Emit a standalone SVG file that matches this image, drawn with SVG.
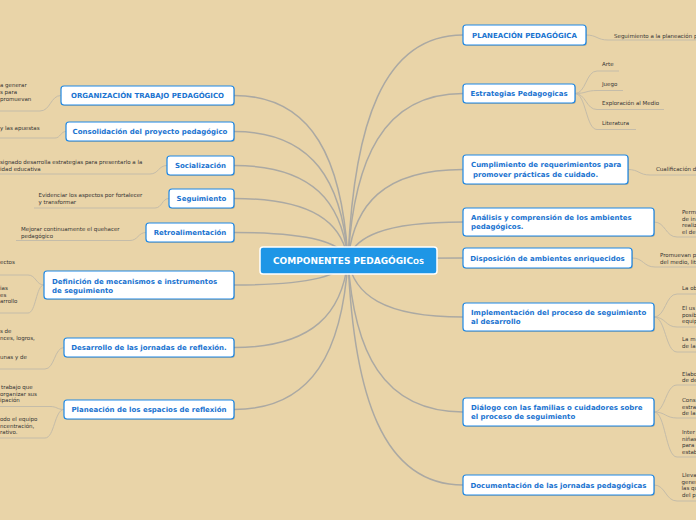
<svg xmlns="http://www.w3.org/2000/svg" width="696" height="520" viewBox="0 0 696 520">
<style>
.bg{fill:#E9D4A8}
.main{fill:none;stroke:#ABA9A3;stroke-width:1.5}
.leafc{fill:none;stroke:#C4BCA9;stroke-width:1}
.box{fill:#FFFFFF;stroke:#1E88E5;stroke-width:1.2}
.sh{fill:#000;opacity:0.15}
.nt{font-family:"DejaVu Sans",Verdana,sans-serif;font-weight:bold;font-size:7px;fill:#1A73D0}
.c{text-anchor:middle}
.lt{font-family:"DejaVu Sans",Verdana,sans-serif;font-size:5.5px;fill:#333333}
.ctr{fill:#1E96E6;stroke:#FFFFFF;stroke-width:1.5}
.ct{font-family:"DejaVu Sans",Verdana,sans-serif;font-weight:bold;font-size:9px;fill:#FFFFFF;text-anchor:middle}
</style>
<rect class="bg" x="0" y="0" width="696" height="520"/>
<g id="connectors">
<path class="main" d="M348,260 C342.3,161.3 313.8,95.5 234,95.5"/>
<path class="main" d="M348,260 C342.3,182.9 313.8,131.5 234,131.5"/>
<path class="main" d="M348,260 C342.3,203.3 313.8,165.5 234,165.5"/>
<path class="main" d="M348,260 C342.3,223.1 313.8,198.5 234,198.5"/>
<path class="main" d="M348,260 C342.3,243.5 313.8,232.5 234,232.5"/>
<path class="main" d="M348,260 C342.3,275 313.8,285 234,285"/>
<path class="main" d="M348,260 C342.3,312.5 313.8,347.5 234,347.5"/>
<path class="main" d="M348,260 C342.3,349.7 313.8,409.5 234,409.5"/>
<path class="main" d="M348,260 C353.75,125 382.5,35 463,35"/>
<path class="main" d="M348,260 C353.75,160.1 382.5,93.5 463,93.5"/>
<path class="main" d="M348,260 C353.75,205.7 382.5,169.5 463,169.5"/>
<path class="main" d="M348,260 C353.75,237.2 382.5,222 463,222"/>
<path class="main" d="M348,260 C353.75,258.8 382.5,258 463,258"/>
<path class="main" d="M348,260 C353.75,294.2 382.5,317 463,317"/>
<path class="main" d="M348,260 C353.75,351.2 382.5,412 463,412"/>
<path class="main" d="M348,260 C353.75,395 382.5,485 463,485"/>
<path class="leafc" d="M61,95.5 C50.5,95.5 50.5,111 40,111 H0"/>
<path class="leafc" d="M66,131.5 C60.5,131.5 60.5,138 55,138 H0"/>
<path class="leafc" d="M167,165.5 C158.5,165.5 158.5,174 150,174 H0"/>
<path class="leafc" d="M169,198.5 C162,198.5 162,208 155,208 H34"/>
<path class="leafc" d="M146,232.5 C138,232.5 138,240.5 130,240.5 H16"/>
<path class="leafc" d="M44,285 C36,285 36,275 28,275 H0"/>
<path class="leafc" d="M44,285 C36,285 36,313 28,313 H0"/>
<path class="leafc" d="M64,347.5 C54.5,347.5 54.5,369 45,369 H0"/>
<path class="leafc" d="M64,409.5 C57,409.5 57,406.5 50,406.5 H0"/>
<path class="leafc" d="M64,409.5 C54.5,409.5 54.5,438 45,438 H0"/>
<path class="leafc" d="M586,35 C597,35 597,40 608,40 H696"/>
<path class="leafc" d="M575,93.5 C586,93.5 586,71 597,71 H619"/>
<path class="leafc" d="M575,93.5 C586,93.5 586,90.5 597,90.5 H623"/>
<path class="leafc" d="M575,93.5 C586,93.5 586,109.5 597,109.5 H664"/>
<path class="leafc" d="M575,93.5 C586,93.5 586,129.5 597,129.5 H636"/>
<path class="leafc" d="M628,169.5 C639,169.5 639,175 650,175 H696"/>
<path class="leafc" d="M654,222 C665.5,222 665.5,237 677,237 H696"/>
<path class="leafc" d="M632,258 C643.5,258 643.5,267 655,267 H696"/>
<path class="leafc" d="M654,317 C665.5,317 665.5,294 677,294 H696"/>
<path class="leafc" d="M654,317 C665.5,317 665.5,327 677,327 H696"/>
<path class="leafc" d="M654,317 C665.5,317 665.5,352 677,352 H696"/>
<path class="leafc" d="M654,412 C665.5,412 665.5,385 677,385 H696"/>
<path class="leafc" d="M654,412 C665.5,412 665.5,418 677,418 H696"/>
<path class="leafc" d="M654,412 C665.5,412 665.5,457 677,457 H696"/>
<path class="leafc" d="M654,485 C665.5,485 665.5,501 677,501 H696"/>
</g>
<g id="center">
<rect class="ctr" x="260" y="247" width="177" height="27" rx="3"/>
<text class="ct" x="348.5" y="264">COMPONENTES PEDAGÓGIC<tspan font-size="7px">OS</tspan></text>
</g>
<g id="organizacion">
<rect class="sh" x="62" y="87" width="173" height="19" rx="3"/>
<rect class="box" x="61" y="86" width="173" height="19" rx="3"/>
<text class="nt c" x="147.5" y="98">ORGANIZACIÓN TRABAJO PEDAGÓGICO</text>
<text class="lt" x="0" y="87">a generar</text>
<text class="lt" x="0" y="93.5">s para</text>
<text class="lt" x="0" y="100.5">promuevan</text>
</g>
<g id="consolidacion">
<rect class="sh" x="67" y="123" width="168" height="19" rx="3"/>
<rect class="box" x="66" y="122" width="168" height="19" rx="3"/>
<text class="nt c" x="150" y="134">Consolidación del proyecto pedagógico</text>
<text class="lt" x="0" y="130">y las apuestas</text>
</g>
<g id="socializacion">
<rect class="sh" x="168" y="157" width="67" height="19" rx="3"/>
<rect class="box" x="167" y="156" width="67" height="19" rx="3"/>
<text class="nt c" x="200.5" y="168">Socialización</text>
<text class="lt" x="0" y="164">signado desarrolla estrategias para presentarlo a la</text>
<text class="lt" x="0" y="170.5">idad educativa</text>
</g>
<g id="seguimiento">
<rect class="sh" x="170" y="190" width="65" height="19" rx="3"/>
<rect class="box" x="169" y="189" width="65" height="19" rx="3"/>
<text class="nt c" x="201.5" y="201">Seguimiento</text>
<text class="lt" x="38.5" y="197">Evidenciar los aspectos por fortalecer</text>
<text class="lt" x="38.5" y="204">y transformar</text>
</g>
<g id="retroalimentacion">
<rect class="sh" x="147" y="224" width="88" height="19" rx="3"/>
<rect class="box" x="146" y="223" width="88" height="19" rx="3"/>
<text class="nt c" x="190" y="235">Retroalimentación</text>
<text class="lt" x="21" y="231">Mejorar continuamente el quehacer</text>
<text class="lt" x="21" y="237.5">pedagógico</text>
</g>
<g id="definicion">
<rect class="sh" x="45" y="272" width="190" height="28" rx="3"/>
<rect class="box" x="44" y="271" width="190" height="28" rx="3"/>
<text class="nt" x="52" y="283.5">Definición de mecanismos e instrumentos</text>
<text class="nt" x="52" y="292.5">de seguimiento</text>
<text class="lt" x="0" y="264">ectos</text>
<text class="lt" x="0" y="290">ias</text>
<text class="lt" x="0" y="296.5">es</text>
<text class="lt" x="0" y="303">arrollo</text>
</g>
<g id="desarrollo">
<rect class="sh" x="65" y="339" width="170" height="19" rx="3"/>
<rect class="box" x="64" y="338" width="170" height="19" rx="3"/>
<text class="nt c" x="149" y="350">Desarrollo de las jornadas de reflexión.</text>
<text class="lt" x="0" y="333">s de</text>
<text class="lt" x="0" y="340">nces, logros,</text>
<text class="lt" x="0" y="359">unas y de</text>
</g>
<g id="planeacion-espacios">
<rect class="sh" x="65" y="401" width="170" height="19" rx="3"/>
<rect class="box" x="64" y="400" width="170" height="19" rx="3"/>
<text class="nt c" x="149" y="412">Planeación de los espacios de reflexión</text>
<text class="lt" x="1" y="389">trabajo que</text>
<text class="lt" x="0" y="395.5">organizar sus</text>
<text class="lt" x="0" y="402">ipación</text>
<text class="lt" x="0" y="421">odo el equipo</text>
<text class="lt" x="0" y="427.5">ncentración,</text>
<text class="lt" x="0" y="434">rativo.</text>
</g>
<g id="planeacion-pedagogica">
<rect class="sh" x="464" y="26" width="123" height="20" rx="3"/>
<rect class="box" x="463" y="25" width="123" height="20" rx="3"/>
<text class="nt c" x="524.5" y="38">PLANEACIÓN PEDAGÓGICA</text>
<text class="lt" x="614" y="37.5">Seguimiento a la planeación p</text>
</g>
<g id="estrategias">
<rect class="sh" x="464" y="85" width="112" height="19" rx="3"/>
<rect class="box" x="463" y="84" width="112" height="19" rx="3"/>
<text class="nt c" x="519" y="96">Estrategias Pedagogicas</text>
<text class="lt" x="602" y="66">Arte</text>
<text class="lt" x="602" y="86">Juego</text>
<text class="lt" x="602" y="105">Exploración al Medio</text>
<text class="lt" x="602" y="125">Literatura</text>
</g>
<g id="cumplimiento">
<rect class="sh" x="464" y="156" width="165" height="29" rx="3"/>
<rect class="box" x="463" y="155" width="165" height="29" rx="3"/>
<text class="nt" x="471" y="167">Cumplimiento de requerimientos para</text>
<text class="nt" x="473" y="177">promover prácticas de cuidado.</text>
<text class="lt" x="656" y="171">Cualificación d</text>
</g>
<g id="analisis">
<rect class="sh" x="464" y="209" width="191" height="28" rx="3"/>
<rect class="box" x="463" y="208" width="191" height="28" rx="3"/>
<text class="nt" x="471" y="220">Análisis y comprensión de los ambientes</text>
<text class="nt" x="471" y="229">pedagógicos.</text>
<text class="lt" x="682" y="214">Perm</text>
<text class="lt" x="682" y="220.5">de in</text>
<text class="lt" x="682" y="227">realiz</text>
<text class="lt" x="682" y="233.5">el de</text>
</g>
<g id="disposicion">
<rect class="sh" x="464" y="249" width="169" height="20" rx="3"/>
<rect class="box" x="463" y="248" width="169" height="20" rx="3"/>
<text class="nt c" x="547.5" y="261">Disposición de ambientes enriquecidos</text>
<text class="lt" x="660" y="256.5">Promuevan p</text>
<text class="lt" x="660" y="263.5">del medio, lit</text>
</g>
<g id="implementacion">
<rect class="sh" x="464" y="304" width="191" height="28" rx="3"/>
<rect class="box" x="463" y="303" width="191" height="28" rx="3"/>
<text class="nt" x="471" y="315">Implementación del proceso de seguimiento</text>
<text class="nt" x="471" y="324">al desarrollo</text>
<text class="lt" x="682" y="290">La ob</text>
<text class="lt" x="682" y="310">El us</text>
<text class="lt" x="682" y="316.5">posib</text>
<text class="lt" x="682" y="323">equip</text>
<text class="lt" x="682" y="341">La m</text>
<text class="lt" x="682" y="347.5">de la</text>
</g>
<g id="dialogo">
<rect class="sh" x="464" y="399" width="191" height="28" rx="3"/>
<rect class="box" x="463" y="398" width="191" height="28" rx="3"/>
<text class="nt" x="471" y="410">Diálogo con las familias o cuidadores sobre</text>
<text class="nt" x="471" y="419">el proceso de seguimiento</text>
<text class="lt" x="682" y="376">Elabo</text>
<text class="lt" x="682" y="382">de de</text>
<text class="lt" x="682" y="402">Cons</text>
<text class="lt" x="682" y="408.5">estra</text>
<text class="lt" x="682" y="415">de la</text>
<text class="lt" x="682" y="434">Inter</text>
<text class="lt" x="682" y="440.5">niñas</text>
<text class="lt" x="682" y="447">para</text>
<text class="lt" x="682" y="453.5">estab</text>
</g>
<g id="documentacion">
<rect class="sh" x="464" y="476" width="191" height="20" rx="3"/>
<rect class="box" x="463" y="475" width="191" height="20" rx="3"/>
<text class="nt c" x="558.5" y="488">Documentación de las jornadas pedagógicas</text>
<text class="lt" x="682" y="477">Lleva</text>
<text class="lt" x="681.5" y="483.5" font-size="5.2px">gener</text>
<text class="lt" x="681.5" y="490" font-size="5.2px">las qu</text>
<text class="lt" x="682" y="497">del p</text>
</g>
</svg>
